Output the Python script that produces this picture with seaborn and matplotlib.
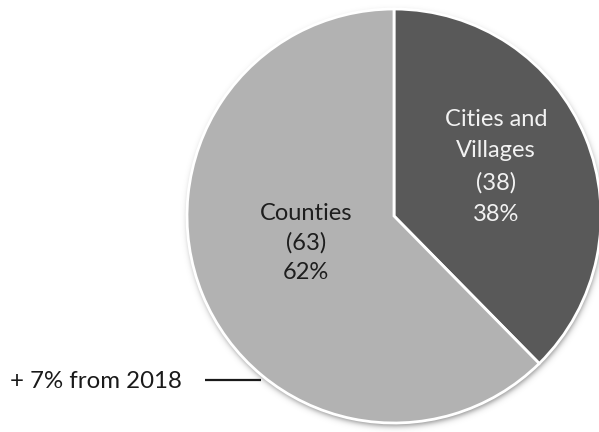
import numpy as np
import matplotlib
matplotlib.use("Agg")
import matplotlib.pyplot as plt
import seaborn as sns

# Share of units by type
categories = ["Cities and Villages", "Counties"]
counts = [38, 63]
slice_colors = ["#595959", "#b2b2b2"]
text_colors = ["#f2f2f2", "#1e1e1e"]
callout_text = "+ 7% from 2018"

sns.set_theme(style="white")
plt.rcParams["font.family"] = ["Lato", "DejaVu Sans"]

W, H = 599, 432
fig = plt.figure(figsize=(W / 100, H / 100), dpi=100)
ax = fig.add_axes([0, 0, 1, 1])

cx, cy, R = 394, H - 216, 207

# soft drop shadow under the disc
yy, xx = np.mgrid[0:H, 0:W] + 0.5
d = np.hypot(xx - 395, (H - yy) - (cy - 3))
alpha = 0.5 * (1 - np.tanh((d - R) / 3.5)) * 0.45
shadow = np.zeros((H, W, 4))
shadow[..., 3] = alpha
ax.imshow(shadow, extent=(0, W, 0, H), origin="upper", zorder=0, interpolation="bilinear")

wedges, _ = ax.pie(counts, colors=slice_colors, startangle=90, counterclock=False,
                   center=(cx, cy), radius=R, frame=False,
                   wedgeprops=dict(edgecolor="white", linewidth=2))
for w in wedges:
    w.set_zorder(2)

total = sum(counts)
label_pos = [(496, H - 167), (306, H - 243)]
spacings = [1.62, 1.48]
for name, v, (lx, ly), tc, ls in zip(categories, counts, label_pos, text_colors, spacings):
    name_txt = name.replace(" and ", " and\n")
    ax.text(lx, ly, f"{name_txt}\n({v})\n{round(100 * v / total)}%", ha="center", va="center",
            fontsize=17, color=tc, linespacing=ls, zorder=3)

# callout
ax.text(10, H - 381, callout_text, ha="left", va="center", fontsize=17.3, color="#1a1a1a", zorder=3)
ax.plot([205, 261], [H - 380, H - 380], color="#1a1a1a", lw=1.6, zorder=3, solid_capstyle="butt")

ax.set_xlim(0, W)
ax.set_ylim(0, H)
ax.set_aspect("auto")
ax.axis("off")
fig.savefig("out.png", dpi=100)
